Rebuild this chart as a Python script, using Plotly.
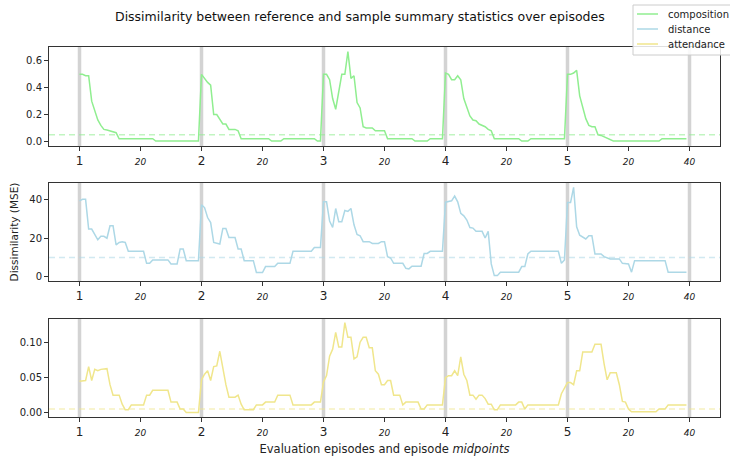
import plotly.graph_objects as go

EP_LEN = 40
N_EP = 5

composition = (
    [0.50, 0.50, 0.49, 0.49, 0.30, 0.22, 0.16, 0.12, 0.09, 0.085, 0.08, 0.07, 0.065]
    + [0.02] * 12 + [0.003] * 15
    + [0.50, 0.47, 0.44, 0.42, 0.20, 0.20, 0.16, 0.13, 0.13, 0.09, 0.09, 0.09, 0.08]
    + [0.02] * 10 + [0.003] * 4 + [0.02] * 11 + [0.003] * 2
    + [0.50, 0.50, 0.46, 0.32, 0.24, 0.36, 0.50, 0.50, 0.67, 0.47, 0.49, 0.29, 0.25,
       0.11, 0.10, 0.10, 0.10, 0.08, 0.08, 0.08, 0.08]
    + [0.02] * 9 + [0.003] * 5 + [0.02] * 5
    + [0.51, 0.50, 0.46, 0.46, 0.49, 0.46, 0.32, 0.26, 0.19, 0.16, 0.155, 0.13, 0.12,
       0.11, 0.09, 0.08]
    + [0.02] * 9 + [0.003] * 3 + [0.02] * 12
    + [0.50, 0.50, 0.51, 0.53, 0.34, 0.25, 0.17, 0.12, 0.11, 0.11, 0.05, 0.045, 0.035,
       0.02, 0.01]
    + [0.003] * 16 + [0.02] * 9
)

distance = (
    [39.5, 40.3, 40.3, 24.8, 24.8, 22, 19.2, 21, 21, 20, 26.5, 26.5, 16.5, 17.8, 18.2, 17.8]
    + [13.2] * 6 + [6.9] * 2 + [8.7] * 6 + [6.6] * 3 + [14.4] * 2 + [8.3] * 5
    + [37.4, 36, 30.8, 28.2, 17.8, 17.5, 17, 25.1, 25.1, 20.4, 20.4, 20.4, 14.4, 14.4]
    + [8.3] * 4 + [2.1] * 3 + [5.2] * 4 + [6.9] * 5 + [13.2] * 7 + [15.2] * 3
    + [39, 39, 29, 25.6, 35.5, 28.6, 28.6, 34.5, 34, 35.5, 27, 22, 21.3, 18.2, 18.2, 18.2,
       17.3, 17.3, 17.3, 18.2, 18.2, 10.4, 9.7]
    + [6.9] * 4 + [4.3, 4.0] + [5.4] * 4 + [12.1] * 2 + [13.2] * 5
    + [38.8, 39.1, 39.5, 42, 39, 33, 31.7, 29.5, 25.6, 25.3, 23.6, 23.6, 23.6, 20.1, 23.6,
       6.6, 0.5, 0.5]
    + [2.3] * 7 + [5.2] * 2 + [11.8] + [13.2] * 10 + [6.9, 8.7]
    + [38.6, 38.6, 46.5, 26, 21.6, 20.4, 19.6, 21.3, 21.3, 11.8, 11.8, 11.8, 10.4, 9.7,
       9.2, 9.2, 9.2, 9.2, 6.9, 6.6, 6.6, 2.3]
    + [8.3] * 11 + [2.3] * 7
)

attendance = (
    [0.045, 0.046, 0.046, 0.066, 0.046, 0.062, 0.060, 0.062, 0.063, 0.063, 0.040, 0.025,
     0.025, 0.025, 0.012, 0.004, 0.004]
    + [0.011] * 5 + [0.025] * 2 + [0.032] * 6 + [0.015] * 3 + [0.005] * 2 + [0.0] * 5
    + [0.047, 0.055, 0.060, 0.046, 0.066, 0.067, 0.088, 0.063, 0.040, 0.022, 0.022, 0.022,
       0.025, 0.012]
    + [0.004] * 4 + [0.011] * 3 + [0.015] * 4 + [0.025] * 5 + [0.011] * 7 + [0.015] * 3
    + [0.044, 0.053, 0.081, 0.091, 0.115, 0.094, 0.094, 0.129, 0.108, 0.108, 0.077, 0.080,
       0.101, 0.108, 0.108, 0.093, 0.093, 0.060, 0.055, 0.040, 0.040, 0.046, 0.046]
    + [0.025] * 3 + [0.011] + [0.015] * 5 + [0.005] * 2 + [0.011] * 6
    + [0.050, 0.053, 0.053, 0.060, 0.053, 0.080, 0.055, 0.046, 0.025, 0.025, 0.019, 0.025,
       0.025, 0.020, 0.012, 0.012, 0.004, 0.004]
    + [0.011] * 6 + [0.015] * 2 + [0.005] + [0.011] * 11 + [0.027, 0.036]
    + [0.043, 0.043, 0.040, 0.060, 0.060, 0.087, 0.087, 0.087, 0.087, 0.098, 0.098, 0.098,
       0.070, 0.047, 0.057, 0.057, 0.057, 0.040, 0.016, 0.015, 0.005]
    + [0.001] * 9 + [0.005] * 3 + [0.011] * 7
)

series_names = ["composition", "distance", "attendance"]
series_values = [composition, distance, attendance]
series_colors = ["#90EE90", "#ADD8E6", "#F0E68C"]
thresholds = [0.05, 10, 0.005]
y_ranges = [[-0.034, 0.704], [-2.3, 48.8], [-0.0064, 0.1344]]
y_ticks = [[0.0, 0.2, 0.4, 0.6], [0, 20, 40], [0.0, 0.05, 0.10]]
y_formats = [".1f", "d", ".2f"]

episode_labels = ["1", "2", "3", "4", "5"]
mid_label = "20"
end_label = "40"

x = list(range(EP_LEN * N_EP))
boundaries = [i * EP_LEN for i in range(N_EP + 1)]

tickvals, ticktext = [], []
small = "<i><span style='font-size:9px'>{}</span></i>"
for i, lab in enumerate(episode_labels):
    tickvals += [i * EP_LEN, i * EP_LEN + EP_LEN // 2]
    ticktext += [lab, small.format(mid_label)]
tickvals.append(N_EP * EP_LEN)
ticktext.append(small.format(end_label))

# figure geometry in pixels (plot area)
W, H = 730, 460
ML, MR, MT, MB = 49, 10, 47, 43
PW, PH = W - ML - MR, H - MT - MB


def px_x(p):
    return (p - ML) / PW


def px_y(p):
    return (H - MB - p) / PH


fig = go.Figure()
domains = [[0.7324, 1.0], [0.3676, 0.6324], [0.0, 0.265]]
shapes = []
for k in range(3):
    xa = "x" if k == 0 else f"x{k+1}"
    ya = "y" if k == 0 else f"y{k+1}"
    fig.add_trace(go.Scatter(
        x=x, y=series_values[k], mode="lines", name=series_names[k],
        line=dict(color=series_colors[k], width=1.5),
        xaxis=xa, yaxis=ya, showlegend=False,
    ))
    for b in boundaries:
        shapes.append(dict(type="line", xref=xa, yref=f"{ya} domain", x0=b, x1=b, y0=0, y1=1,
                           line=dict(color="#D3D3D3", width=3.5), layer="below"))
    shapes.append(dict(type="line", xref=f"{xa} domain", yref=ya, x0=0, x1=1,
                       y0=thresholds[k], y1=thresholds[k], opacity=0.55,
                       line=dict(color=series_colors[k], width=1.5, dash="6px,4px"), layer="below"))

    axis_common = dict(showline=True, mirror=True, linecolor="#333", linewidth=1,
                       ticks="outside", ticklen=4, tickcolor="#333", showgrid=False,
                       zeroline=False, automargin=False)
    xkey = "xaxis" if k == 0 else f"xaxis{k+1}"
    ykey = "yaxis" if k == 0 else f"yaxis{k+1}"
    fig.layout[xkey] = dict(axis_common, domain=[0, 1], range=[-10, 210], anchor=ya,
                            tickvals=tickvals, ticktext=ticktext,
                            tickfont=dict(size=12, color="#222"))
    fig.layout[ykey] = dict(axis_common, domain=domains[k], range=y_ranges[k], anchor=xa,
                            tickvals=y_ticks[k], tickformat=y_formats[k],
                            tickfont=dict(size=10, color="#222"))

# legend box (figure legend, upper right)
annotations = []
shapes.append(dict(type="rect", xref="paper", yref="paper",
                   x0=px_x(633), x1=px_x(732), y0=px_y(55), y1=px_y(5),
                   line=dict(color="#CCCCCC", width=1), fillcolor="rgba(255,255,255,0.85)",
                   layer="above"))
for i, name in enumerate(series_names):
    yy = px_y(14 + 15 * i)
    shapes.append(dict(type="line", xref="paper", yref="paper",
                       x0=px_x(637), x1=px_x(658), y0=yy, y1=yy,
                       line=dict(color=series_colors[i], width=1.5), layer="above"))
    annotations.append(dict(text=name, xref="paper", yref="paper", x=px_x(666), y=yy,
                            xanchor="left", yanchor="middle", showarrow=False,
                            font=dict(size=10, color="#222")))

fig.layout["yaxis2"]["title"] = dict(text="Dissimilarity (MSE)", font=dict(size=10.5, color="#222"), standoff=8)
fig.layout["xaxis3"]["title"] = dict(text="Evaluation episodes and episode <i>midpoints</i>",
                                     font=dict(size=11.5, color="#222"), standoff=6)

fig.update_layout(
    width=W, height=H,
    margin=dict(l=ML, r=MR, t=MT, b=MB, autoexpand=False),
    paper_bgcolor="white", plot_bgcolor="white",
    font=dict(family="DejaVu Sans", color="#222"),
    title=dict(text="Dissimilarity between reference and sample summary statistics over episodes",
               x=0.493, xanchor="center", y=0.963, yanchor="middle",
               font=dict(size=12.5, color="#111")),
    shapes=shapes,
    annotations=annotations,
    showlegend=False,
)

fig.write_html("out.html", post_script="document.body.style.margin='0px';",
               config={"displayModeBar": False})
